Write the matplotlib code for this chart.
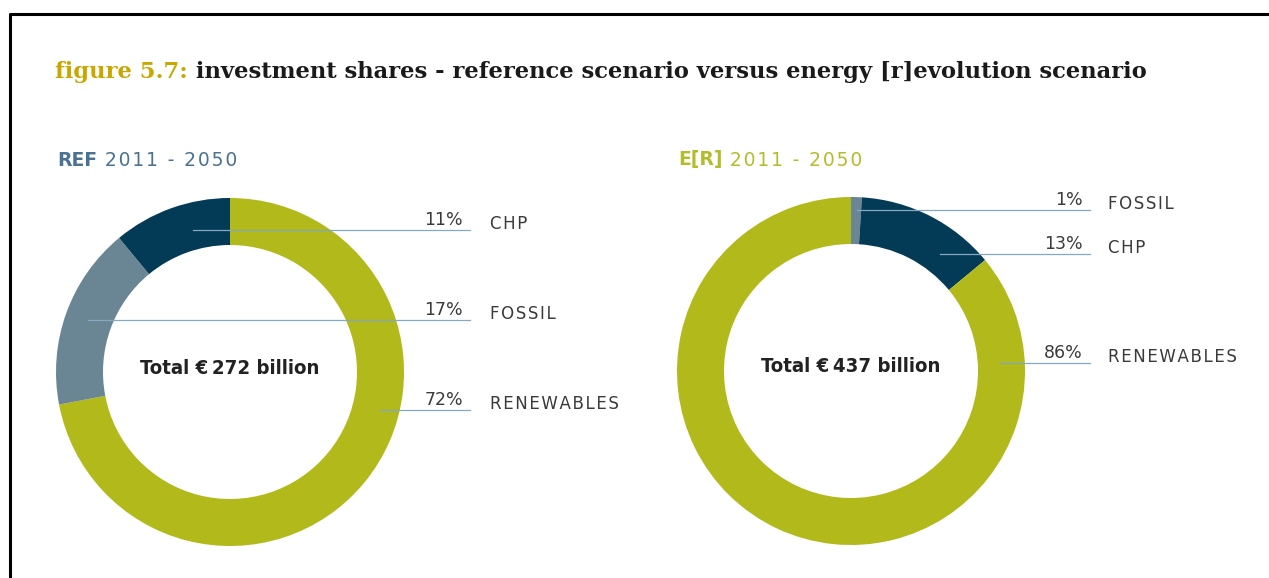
import matplotlib
matplotlib.use("Agg")
import matplotlib.pyplot as plt
from matplotlib.lines import Line2D

# Data
ref_labels = ["RENEWABLES", "FOSSIL", "CHP"]
ref_shares = [72, 17, 11]
er_labels = ["FOSSIL", "CHP", "RENEWABLES"]
er_shares = [1, 13, 86]
totals = [272, 437]
panel_titles = [("REF", " 2011 - 2050"), ("E[R]", " 2011 - 2050")]

colors = {"RENEWABLES": "#b1b91b", "FOSSIL": "#6a8594", "CHP": "#033b56"}

W, H = 1269, 578
fig = plt.figure(figsize=(W / 100, H / 100), dpi=100)
ax = fig.add_axes([0, 0, 1, 1])


def Y(y):
    # image pixel row -> data y (y axis points up)
    return H - y


def spaced(s):
    return "\u200a".join(s)


# donuts
centers = [(230, 372), (851, 371)]
R, RING = 174, 47
for (cx, cy), shares, labels in [(centers[0], ref_shares, ref_labels),
                                 (centers[1], er_shares, er_labels)]:
    ax.pie(shares, colors=[colors[l] for l in labels], startangle=90,
           counterclock=False, center=(cx, Y(cy)), radius=R,
           wedgeprops=dict(width=RING, linewidth=0), frame=True)

ax.set_xlim(0, W)
ax.set_ylim(0, H)
ax.set_aspect("equal")
ax.axis("off")

# centre totals
for (cx, cy), tot in zip(centers, totals):
    ax.text(cx, Y(cy - 4), f"Total \u20ac\u2009{tot} billion", ha="center", va="center",
            fontsize=14.6, fontweight="bold", color="#222222", fontstretch="condensed",
            family=["DejaVu Sans Condensed", "DejaVu Sans"])

# label rows: (name, share, line y, line start x)
ref_rows = [("CHP", 11, 230, 193), ("FOSSIL", 17, 320, 88), ("RENEWABLES", 72, 410, 380)]
er_rows = [("FOSSIL", 1, 210, 857), ("CHP", 13, 254, 940), ("RENEWABLES", 86, 363, 1000)]
line_c = "#86a9c2"
txt_c = "#3a3a3a"
for rows, x_end, x_name in [(ref_rows, 470, 490), (er_rows, 1090, 1108)]:
    for name, share, ly, x0 in rows:
        ax.add_line(Line2D([x0, x_end], [Y(ly), Y(ly)], color=line_c, lw=0.9))
        ax.text(x_end - 7, Y(ly - 5), f"{share}%", ha="right", va="baseline",
                fontsize=12.5, color=txt_c)
        ax.text(x_name, Y(ly - 6), spaced(name), ha="left", va="center",
                fontsize=12, color=txt_c)

# panel headings
head_cols = ["#4b7290", "#b3bd2c"]
for (bold, rest), (cx, cy), hc in zip(panel_titles, [(57, 160), (678, 160)], head_cols):
    t = ax.text(cx, Y(cy), bold, ha="left", va="center", fontsize=13.5,
                fontweight="bold", color=hc)
    ax.annotate(spaced(rest), xy=(1, 0.5), xycoords=t, ha="left", va="center",
                fontsize=13.5, color=hc)

# title
t1 = ax.text(55, Y(72), "figure 5.7:", ha="left", va="center", fontsize=16.3,
             fontweight="bold", color="#c9a600", family="DejaVu Serif")
ax.annotate(" investment shares - reference scenario versus energy [r]evolution scenario",
            xy=(1, 0.5), xycoords=t1, ha="left", va="center", fontsize=16.3,
            fontweight="bold", color="#1a1a1a", family="DejaVu Serif")

# frame
fig.add_artist(Line2D([10 / W, 10 / W, 1], [0, 1 - 14 / H, 1 - 14 / H],
                      transform=fig.transFigure, color="black", lw=2.2))

fig.savefig("out.png", dpi=100)
